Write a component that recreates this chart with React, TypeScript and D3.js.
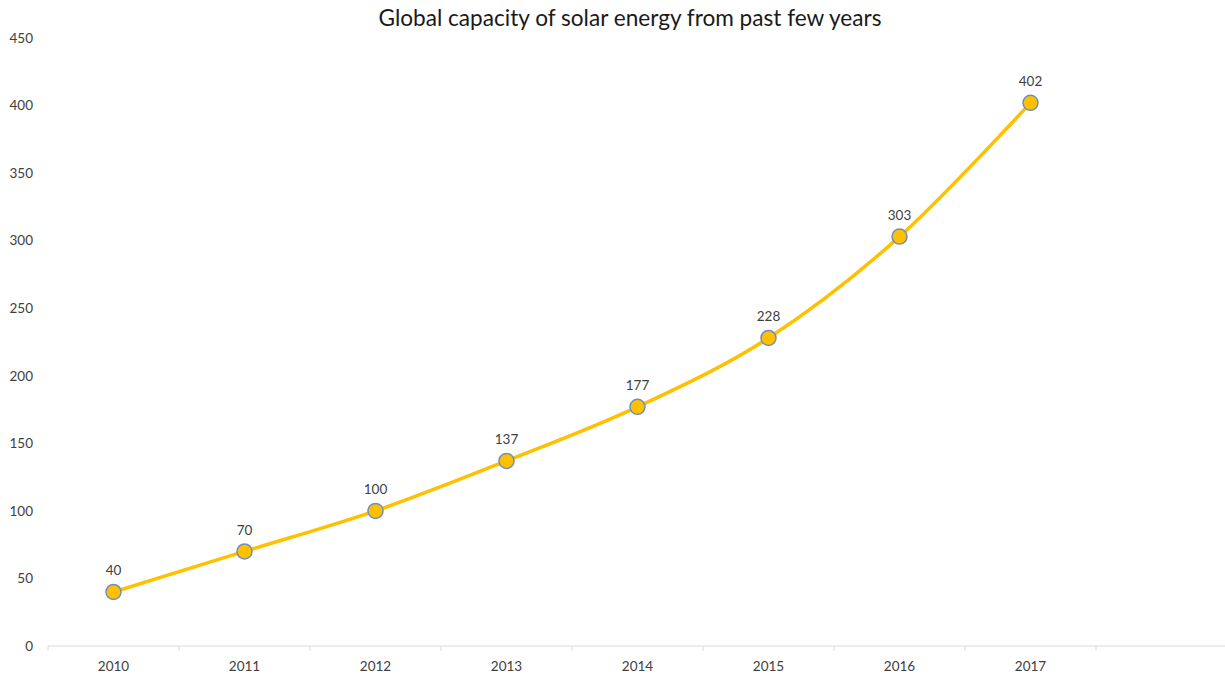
import React from "react";
import * as d3 from "d3";

const years = ["2010", "2011", "2012", "2013", "2014", "2015", "2016", "2017", ""];
const capacity = [40, 70, 100, 137, 177, 228, 303, 402];
const yTicks = [0, 50, 100, 150, 200, 250, 300, 350, 400, 450];
const title = "Global capacity of solar energy from past few years";

const W = 1225;
const H = 675;
const FONT = "Lato, 'Open Sans', sans-serif";

export default function App() {
  const x = d3.scaleBand<string>().domain(years).range([48, 1227]);
  const y = d3.scaleLinear().domain([0, 450]).range([646, 38]);
  const pts: [number, number][] = capacity.map((v, i) => [
    (x(years[i]) as number) + x.bandwidth() / 2,
    y(v),
  ]);
  const line = d3.line().curve(d3.curveCardinal.tension(0))(pts) || "";
  const tickXs = years.map((yr) => x(yr) as number);

  return (
    <svg
      width={W}
      height={H}
      style={{ position: "absolute", left: 0, top: 0, background: "#fff" }}
      fontFamily={FONT}
    >
      <text x={630} y={26} textAnchor="middle" fontSize={22.6} fill="#1a1a1a">
        {title}
      </text>
      {yTicks.map((t) => (
        <text key={t} x={33} y={y(t)} dy="0.35em" textAnchor="end" fontSize={13.5} fill="#404040">
          {t}
        </text>
      ))}
      <line x1={48} x2={1225} y1={y(0)} y2={y(0)} stroke="#d9d9d9" strokeWidth={1} />
      {tickXs.map((tx, i) => (
        <line key={i} x1={tx} x2={tx} y1={y(0)} y2={y(0) + 5} stroke="#d9d9d9" strokeWidth={1} />
      ))}
      {years.map((yr) =>
        yr ? (
          <text
            key={yr}
            x={(x(yr) as number) + x.bandwidth() / 2}
            y={666}
            dy="0.35em"
            textAnchor="middle"
            fontSize={13.5}
            fill="#404040"
          >
            {yr}
          </text>
        ) : null
      )}
      <path d={line} fill="none" stroke="#FFC000" strokeWidth={3.5} strokeLinecap="round" />
      {pts.map(([px, py], i) => (
        <g key={i}>
          <circle cx={px} cy={py} r={7.5} fill="#FFC000" stroke="#6d8fc4" strokeWidth={1.5} />
          <text x={px} y={py - 21.5} dy="0.35em" textAnchor="middle" fontSize={13.5} fill="#404040">
            {capacity[i]}
          </text>
        </g>
      ))}
    </svg>
  );
}
